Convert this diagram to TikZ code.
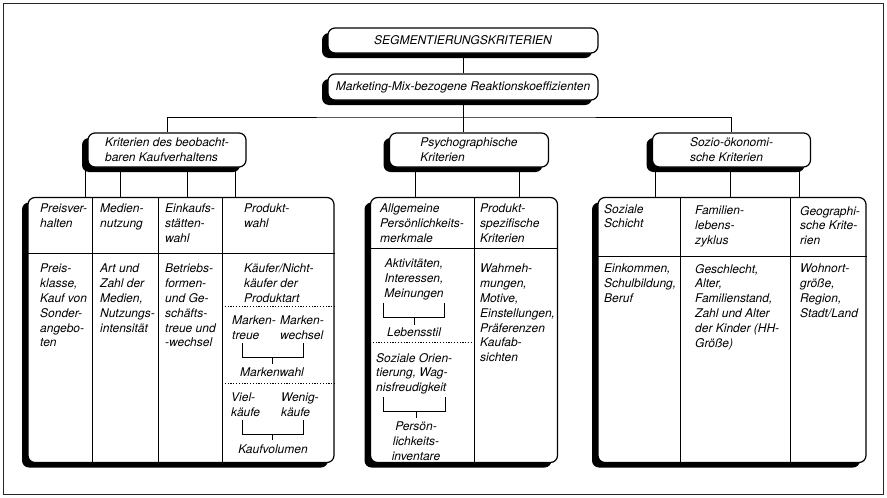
\documentclass[tikz,border=0pt]{standalone}
\usepackage{fontspec}
\setmainfont{TeX Gyre Heros}
\usetikzlibrary{shadows}

\begin{document}
\begin{tikzpicture}[x=1pt,y=-1pt,
    every node/.style={font=\fontsize{12}{14.8}\selectfont\itshape},
    box/.style={draw,line width=1.2pt,rounded corners=7pt,fill=white,
      drop shadow={shadow xshift=-6pt,shadow yshift=-5pt,fill=black,opacity=1}},
    txt/.style={anchor=north west,inner sep=0pt,align=left},
    ctxt/.style={anchor=north,inner sep=0pt,align=center},
    sep/.style={line width=0.9pt},
    dots/.style={line width=1pt,dash pattern=on 1.2pt off 1.6pt}]
    \useasboundingbox (0,0) rectangle (887,498);
    \draw [line width=0.8pt,black!85] (3,3) rectangle (883,494);

    \node [box,minimum width=270pt,minimum height=25pt] (SEG) at (463,40.5) {SEGMENTIERUNGSKRITERIEN};
    \node [box,minimum width=270pt,minimum height=26pt] (MMR) at (463,87) {Marketing-Mix-bezogene Reaktionskoeffizienten};
    \node [box,align=left,minimum width=158pt,minimum height=34pt] (KBK) at (167,150) {Kriterien des beobacht-\\baren Kaufverhaltens};
    \node [box,align=left,minimum width=159pt,minimum height=34pt] (PSY) at (469,150) {Psychographische\\Kriterien};
    \node [box,align=left,minimum width=158pt,minimum height=34pt] (SOZ) at (731.5,150) {Sozio-ökonomi-\\sche Kriterien};
    \node [box,minimum width=306pt,minimum height=265pt] (BKK) at (181,330) {};
    \node [box,minimum width=187pt,minimum height=265pt] (BPS) at (464,330) {};
    \node [box,minimum width=268pt,minimum height=265pt] (BSZ) at (732,330) {};
    \coordinate (BUS) at (463,117);

    \draw [sep] (SEG) -- (MMR);
    \draw [sep] (MMR.south) -- (MMR.south |- PSY.north);
    \draw [sep] (KBK.north) |- (BUS) -| (SOZ.north);
    \draw [sep] (KBK.south -| 85,0) -- (BKK.north -| 85,0);
    \draw [sep] (KBK.south -| 120,0) -- (BKK.north -| 120,0);
    \draw [sep] (KBK.south -| 187,0) -- (BKK.north -| 187,0);
    \draw [sep] (KBK.south -| 235,0) -- (BKK.north -| 235,0);
    \draw [sep] (PSY.south -| 415,0) -- (BPS.north -| 415,0);
    \draw [sep] (PSY.south -| 519,0) -- (BPS.north -| 519,0);
    \draw [sep] (SOZ.south -| 655,0) -- (BSZ.north -| 655,0);
    \draw [sep] (SOZ.south -| 730,0) -- (BSZ.north -| 730,0);
    \draw [sep] (SOZ.south -| 799,0) -- (BSZ.north -| 799,0);

    \draw [sep] (BKK.north -| 92,0) -- (BKK.south -| 92,0);
    \draw [sep] (BKK.north -| 158,0) -- (BKK.south -| 158,0);
    \draw [sep] (BKK.north -| 222,0) -- (BKK.south -| 222,0);
    \draw [sep] (BKK.west |- 0,253) -- (BKK.east |- 0,253);
    \draw [dots] (222,306) -- (BKK.east |- 0,306);
    \draw [dots] (222,383) -- (BKK.east |- 0,383);
    \draw [sep] (BPS.north -| 474,0) -- (BPS.south -| 474,0);
    \draw [sep] (BPS.west |- 0,248) -- (BPS.east |- 0,248);
    \draw [dots] (BPS.west |- 0,342) -- (474,342);
    \draw [sep] (BSZ.north -| 680,0) -- (BSZ.south -| 680,0);
    \draw [sep] (BSZ.north -| 790,0) -- (BSZ.south -| 790,0);
    \draw [sep] (BSZ.west |- 0,256) -- (BSZ.east |- 0,256);

    \node [txt] (PV) at (40,204) {Preisver-\\halten};
    \node [txt] (MN) at (100,204) {Medien-\\nutzung};
    \node [txt] (EW) at (165,204) {Einkaufs-\\stätten-\\wahl};
    \node [txt] (PW) at (244,204) {Produkt-\\wahl};
    \node [txt] (PK) at (40,264) {Preis-\\klasse,\\Kauf von\\Sonder-\\angebo-\\ten};
    \node [txt] (AZ) at (100,264) {Art und\\Zahl der\\Medien,\\Nutzungs-\\intensität};
    \node [txt] (BF) at (165,264) {Betriebs-\\formen-\\und Ge-\\schäfts-\\treue und\\-wechsel};
    \node [txt] (KN) at (244,264) {Käufer/Nicht-\\käufer der\\Produktart};
    \node [txt] (MT) at (232,316) {Marken-\\treue};
    \node [txt] (MW) at (280,316) {Marken-\\wechsel};
    \node [ctxt] (MWL) at (272,368) {Markenwahl};
    \node [txt] (VK) at (231,393) {Viel-\\käufe};
    \node [txt] (WK) at (281,393) {Wenig-\\käufe};
    \node [ctxt] (KV) at (273,445) {Kaufvolumen};
    \draw [sep] (242,343) |- (303,357) -- (303,343);
    \draw [sep] (272,357) -- (272,364);
    \draw [sep] (242,420) |- (303,434) -- (303,420);
    \draw [sep] (272.5,434) -- (272.5,440);

    \node [txt] (APM) at (380,204) {Allgemeine\\Persönlichkeits-\\merkmale};
    \node [txt] (PSK) at (480,204) {Produkt-\\spezifische\\Kriterien};
    \node [ctxt] (AIM) at (414,259) {Aktivitäten,\\Interessen,\\Meinungen};
    \node [ctxt] (LS) at (414,328) {Lebensstil};
    \node [txt] (SOW) at (376,353) {Soziale Orien-\\tierung, Wag-\\nisfreudigkeit};
    \node [ctxt] (PI) at (416,422) {Persön-\\lichkeits-\\inventare};
    \node [txt] (WM) at (480,264) {Wahrneh-\\mungen,\\Motive,\\Einstellungen,\\Präferenzen\\Kaufab-\\sichten};
    \draw [sep] (383,303) |- (444,317) -- (444,303);
    \draw [sep] (414,317) -- (414,325);
    \draw [sep] (383,397) |- (445,411) -- (445,397);
    \draw [sep] (416,411) -- (416,418);

    \node [txt] (SS) at (604,204) {Soziale\\Schicht};
    \node [txt] (FL) at (695,206) {Familien-\\lebens-\\zyklus};
    \node [txt] (GK) at (800,206) {Geographi-\\sche Krite-\\rien};
    \node [txt] (ESB) at (604,264) {Einkommen,\\Schulbildung,\\Beruf};
    \node [txt] (GAF) at (695,264) {Geschlecht,\\Alter,\\Familienstand,\\Zahl und Alter\\der Kinder (HH-\\Größe)};
    \node [txt] (WGR) at (800,264) {Wohnort-\\größe,\\Region,\\Stadt/Land};
\end{tikzpicture}
\end{document}
